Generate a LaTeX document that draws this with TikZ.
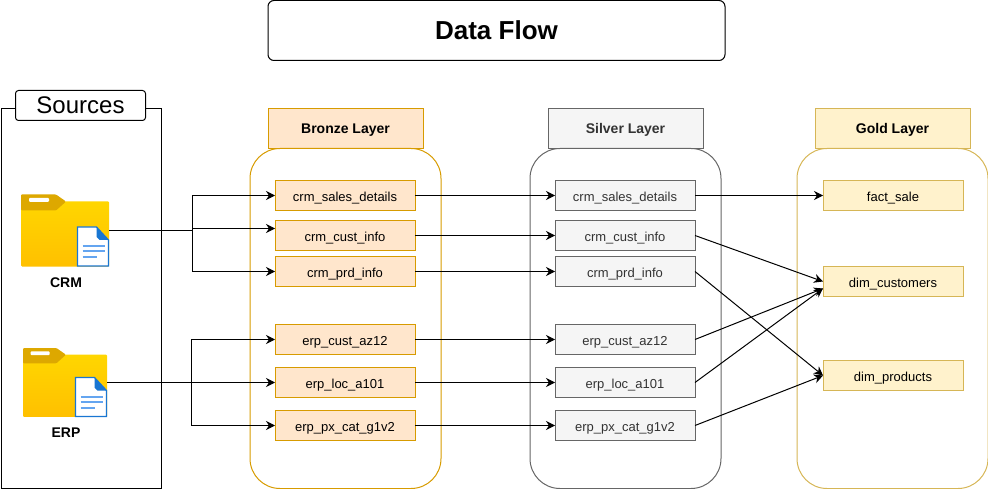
\documentclass[tikz,border=0pt]{standalone}
\usepackage{fontspec}
\setmainfont{Liberation Sans}
\usepackage{xcolor}
\usetikzlibrary{arrows.meta, positioning}

\definecolor{bronzefill}{HTML}{FFE6CC}
\definecolor{bronzeline}{HTML}{D79B00}
\definecolor{silverfill}{HTML}{F5F5F5}
\definecolor{silverline}{HTML}{666666}
\definecolor{silvertext}{HTML}{333333}
\definecolor{goldfill}{HTML}{FFF2CC}
\definecolor{goldline}{HTML}{D6B656}
\definecolor{foldertop}{HTML}{FFD600}
\definecolor{folderbottom}{HTML}{FFC000}
\definecolor{foldertab}{HTML}{DDA800}
\definecolor{docblue}{HTML}{1976D2}
\definecolor{doclines}{HTML}{64A5F0}

\begin{document}
\begin{tikzpicture}[
x=1pt,y=-1pt,
line width=1pt,
titlebox/.style={
rectangle,
rounded corners=6pt,
draw,
fill=white,
outer sep=0pt,
align=center
},
head/.style={
rectangle,
draw,
outer sep=0pt,
minimum width=155pt,
minimum height=40pt,
text height=10.6pt,
text depth=0pt,
font=\fontsize{14}{16}\selectfont\bfseries
},
layer/.style={
rectangle,
rounded corners=30pt,
draw,
outer sep=0pt,
minimum width=191pt,
minimum height=340pt
},
item/.style={
rectangle,
draw,
outer sep=0pt,
minimum width=140pt,
minimum height=30pt,
text height=12pt,
text depth=0pt,
font=\fontsize{13}{15}\selectfont
},
source/.style={
rectangle,
outer sep=0pt,
minimum width=88pt,
minimum height=72pt
},
caption/.style={
font=\fontsize{14}{16}\selectfont\bfseries
},
bronze/.style={fill=bronzefill,draw=bronzeline},
silver/.style={fill=silverfill,draw=silverline,text=silvertext},
gold/.style={fill=goldfill,draw=goldline},
arrow/.style={-{Stealth[length=9pt,width=9pt]}},
folder/.pic={
\shade[top color=foldertop,bottom color=folderbottom,rounded corners=1pt]
(0,7) rectangle (88,72);
\fill[fill=foldertab,rounded corners=1pt]
(0,16) -- (0,0) -- (35,0) -- (45,7) -- (35,16) -- cycle;
\fill[white,rounded corners=1pt] (8,3.5) rectangle (28,7.5);
},
docfile/.pic={
\draw[docblue,fill=white,line width=1.2pt] (0,0) -- (19,0) -- (31,13) -- (31,39) -- (0,39) -- cycle;
\fill[docblue] (19,0) -- (31,13) -- (22,13) -- (19,10) -- cycle;
\draw[doclines,line width=2pt] (5,19) -- (27,19);
\draw[doclines,line width=2pt] (5,24.5) -- (27,24.5);
\draw[doclines,line width=2pt] (5,30) -- (19,30);
}
]
\useasboundingbox (0,0) rectangle (988,489);

% Title
\node[titlebox,minimum width=457pt,minimum height=60pt,
font=\fontsize{26}{30}\selectfont\bfseries] (title) at (496.5,30.5) {Data Flow};

% Sources
\node[rectangle,draw,outer sep=0pt,minimum width=160pt,minimum height=380pt] (sources) at (81,298.5) {};
\node[titlebox,rounded corners=3pt,minimum width=130pt,minimum height=30pt,
font=\fontsize{24}{28}\selectfont] (sourcestitle) at (80.5,105.5) {Sources};

\node[source] (crm) at (65,230.5) {};
\pic at (crm.north west) {folder};
\pic at (77.5,227) {docfile};
\node[caption] (crmtext) at (66,283) {CRM};

\node[source,minimum width=84pt,minimum height=69pt] (erp) at (65,382.5) {};
\pic[scale=.955] at (erp.north west) {folder};
\pic at (75.5,377.5) {docfile};
\node[caption] (erptext) at (66,433) {ERP};

% Bronze
\node[head,bronze] (bronzehead) at (345.5,128.5) {Bronze Layer};
\node[layer,draw=bronzeline,below=0pt of bronzehead.south] (bronzelayer) {};
\node[item,bronze] (bsales) at (345,195.5) {crm\_sales\_details};
\node[item,bronze,below=10pt of bsales] (bcust) {crm\_cust\_info};
\node[item,bronze,below=6pt of bcust] (bprd) {crm\_prd\_info};
\node[item,bronze,below=38pt of bprd] (baz) {erp\_cust\_az12};
\node[item,bronze,below=13pt of baz] (bloc) {erp\_loc\_a101};
\node[item,bronze,below=13pt of bloc] (bpx) {erp\_px\_cat\_g1v2};

% Silver
\node[head,silver,right=125pt of bronzehead] (silverhead) {Silver Layer};
\node[layer,draw=silverline,below=0pt of silverhead.south] (silverlayer) {};
\node[item,silver,right=140pt of bsales] (ssales) {crm\_sales\_details};
\node[item,silver,right=140pt of bcust] (scust) {crm\_cust\_info};
\node[item,silver,right=140pt of bprd] (sprd) {crm\_prd\_info};
\node[item,silver,right=140pt of baz] (saz) {erp\_cust\_az12};
\node[item,silver,right=140pt of bloc] (sloc) {erp\_loc\_a101};
\node[item,silver,right=140pt of bpx] (spx) {erp\_px\_cat\_g1v2};

% Gold
\node[head,gold,right=112pt of silverhead] (goldhead) {Gold Layer};
\node[layer,draw=goldline,below=0pt of goldhead.south] (goldlayer) {};
\node[item,gold,right=128pt of ssales] (gsale) {fact\_sale};
\node[item,gold,below=56pt of gsale] (gcust) {dim\_customers};
\node[item,gold,below=64pt of gcust] (gprod) {dim\_products};

% Arrows
\coordinate (crmjoin) at (192,230.5);
\coordinate (erpjoin) at (191,382.5);
\draw (crm.east) -- (crmjoin);
\draw[arrow] (crmjoin) |- (bsales.west);
\draw[arrow] (crmjoin) |- ([yshift=7pt]bcust.west);
\draw[arrow] (crmjoin) |- (bprd.west);
\draw[arrow] (erp.east) -- (bloc.west);
\draw[arrow] (erpjoin) |- (baz.west);
\draw[arrow] (erpjoin) |- (bpx.west);

\foreach \from/\to in {bsales/ssales,bcust/scust,bprd/sprd,baz/saz,bloc/sloc,bpx/spx}
\draw[arrow] (\from.east) -- (\to.west);

\draw[arrow] (ssales.east) -- (gsale.west);
\draw[arrow] (scust.east) -- (gcust.west);
\draw[arrow] (saz.east) -- ([yshift=-7pt]gcust.west);
\draw[arrow] (sloc.east) -- ([yshift=-7pt]gcust.west);
\draw[arrow] (sprd.east) -- (gprod.west);
\draw[arrow] (spx.east) -- (gprod.west);

\end{tikzpicture}
\end{document}
